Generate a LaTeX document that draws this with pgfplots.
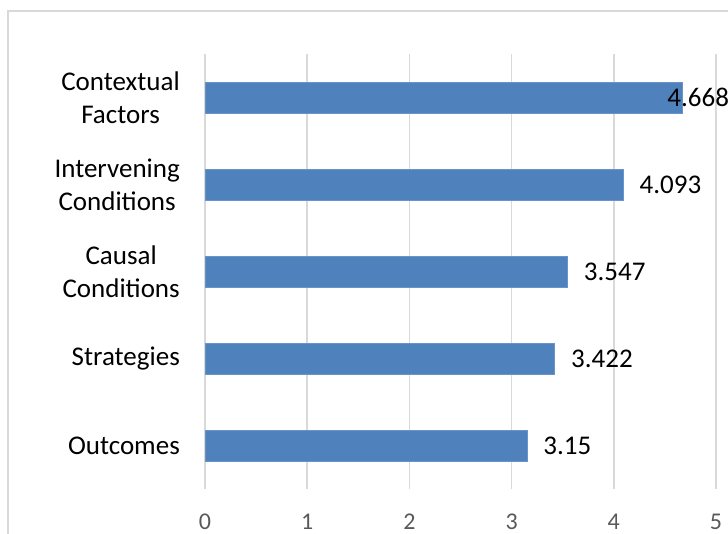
\documentclass[border=0pt]{standalone}
\usepackage{fontspec}
\setmainfont{Carlito}
\usepackage{pgfplots}
\usepackage{pgfplotstable}
\pgfplotsset{compat=1.18}
\definecolor{barblue}{HTML}{4F81BD}
\definecolor{gridgray}{HTML}{D9D9D9}
\definecolor{ticktext}{HTML}{595959}
\pgfplotstableread{
y x dx lab
0 3.15 16 3.15
1 3.422 16 3.422
2 3.547 16 3.547
3 4.093 16 4.093
4 4.668 -15 4.668
}\datatable
\begin{document}
\begin{tikzpicture}
\draw[gridgray, line width=1.2bp] (8bp,-11bp) rectangle (745bp,-550bp);
\begin{axis}[
  at={(205bp,-489bp)}, anchor=south west,
  scale only axis, width=511bp, height=435bp,
  xbar, bar width=31bp,
  xmin=0, xmax=5, ymin=-0.5, ymax=4.5,
  xtick={0,1,2,3,4,5},
  ytick={0,1,2,3,4},
  yticklabels={Outcomes, Strategies, {Causal\\Conditions}, {Intervening\\Conditions}, {Contextual\\Factors}},
  yticklabel style={align=center, anchor=east, inner sep=0pt, xshift=-25bp, font=\fontsize{27bp}{33bp}\selectfont, text=black},
  xticklabel style={anchor=center, yshift=-33bp, font=\fontsize{24bp}{29bp}\selectfont, text=ticktext},
  /pgf/number format/assume math mode=true,
  xmajorgrids, major grid style={gridgray, line width=1.5bp},
  axis line style={draw=none},
  major tick length=0pt,
  tick style={draw=none},
  point meta=explicit symbolic,
  visualization depends on={\thisrow{dx} \as \dx},
  nodes near coords,
  nodes near coords style={anchor=west, inner sep=0pt, xshift=\dx bp, font=\fontsize{27bp}{33bp}\selectfont, text=black},
]
\addplot[fill=barblue, draw=barblue!85!white, line width=0.8bp] table[x=x, y=y, meta=lab] {\datatable};
\end{axis}
\pgfresetboundingbox
\path[use as bounding box] (0,0) rectangle (728bp,-534bp);
\end{tikzpicture}
\end{document}
